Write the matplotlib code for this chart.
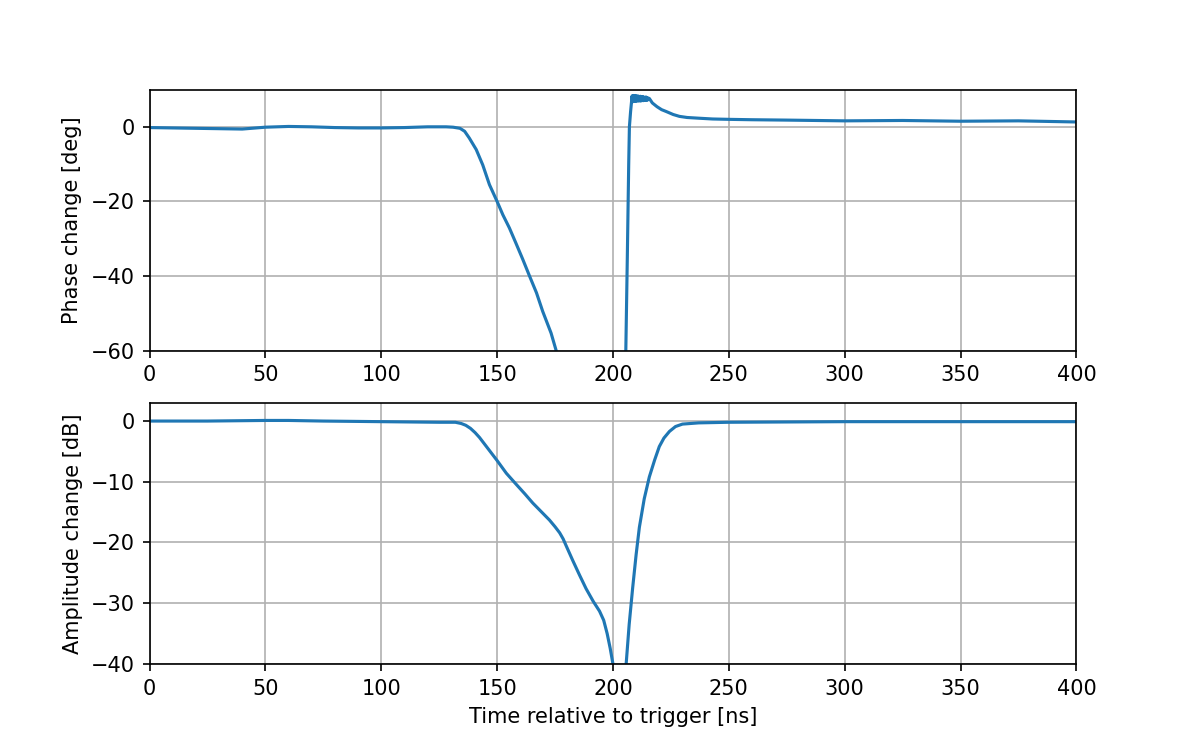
import matplotlib
matplotlib.use("Agg")
import matplotlib.pyplot as plt

# phase change [deg] vs time [ns]
t_phase = [0, 10, 20, 30, 40, 50, 60, 70, 80, 90, 100, 110, 120, 128, 131, 134,
           136, 138, 141, 143.8, 146.7, 150, 152.5, 155.3, 158, 161, 164, 167,
           169.7, 171.5, 173.3, 175.5, 178, 190, 204, 205.5, 206.2, 206.8, 207.1,
           207.6, 208.0, 208.25, 208.5, 208.75, 209.0, 209.25, 209.5, 209.75,
           210.0, 210.25, 210.5, 210.75, 211.0, 211.25, 211.5, 211.75, 212.0,
           212.25, 212.5, 212.75, 213.0, 213.25, 213.5, 213.75, 214.0, 214.25,
           214.5, 214.75, 215.0, 215.25, 215.7, 217, 219, 221, 223,
           226, 228.7, 232, 237.3, 243, 250.3, 260, 275, 300, 325, 350, 375, 400]
phase = [-0.2, -0.3, -0.4, -0.5, -0.6, -0.1, 0.1, 0.0, -0.2, -0.3, -0.3, -0.2, 0.0,
         0.0, -0.1, -0.4, -1.2, -3.0, -6.1, -10.2, -15.5, -20.0, -23.6, -27.1,
         -31.0, -35.4, -40.0, -44.5, -49.5, -52.4, -55.3, -60.0, -66, -90, -90,
         -62, -35, -10, 0.0, 4.0, 6.6, 8.3, 6.7, 8.4, 6.8, 8.3, 6.9, 8.4, 6.8,
         8.2, 7.0, 8.3, 6.9, 8.1, 7.0, 8.2, 6.9, 8.0, 7.1, 8.1, 7.0, 8.0, 7.1,
         7.9, 7.2, 8.0, 7.1, 7.8, 7.2, 7.7, 7.6, 6.4, 5.4, 4.6, 4.1, 3.3, 2.8,
         2.5, 2.3, 2.1, 2.0, 1.9, 1.8, 1.6, 1.7, 1.5, 1.6, 1.3]

# amplitude change [dB] vs time [ns]
t_amp = [0, 25, 50, 60, 75, 100, 125, 132, 134.5, 136.5, 138.5, 140.5, 142.4,
         146, 150, 154, 158.2, 162, 165.4, 169, 172.6, 175, 177, 178.5, 180,
         182.7, 185.5, 188.4, 191.5, 194.2, 196, 197.5, 198.8, 200, 203, 205.7,
         207, 208.5, 210, 211.4, 213.5, 215.7, 218, 220, 222, 224.4, 227, 230,
         237, 250, 300, 350, 400]
amp = [0.0, 0.0, 0.1, 0.1, 0.0, -0.1, -0.2, -0.2, -0.4, -0.7, -1.2, -1.9, -2.7,
       -4.5, -6.5, -8.6, -10.4, -12.0, -13.5, -14.9, -16.3, -17.4, -18.4, -19.4,
       -20.7, -23.0, -25.3, -27.6, -29.7, -31.3, -32.8, -35.0, -37.4, -40.0,
       -46, -40.0, -33.5, -27.5, -22.0, -17.5, -12.8, -9.2, -6.4, -4.2, -2.8,
       -1.7, -0.9, -0.5, -0.3, -0.2, -0.1, -0.1, -0.1]

fig, (ax1, ax2) = plt.subplots(2, 1, figsize=(1196 / 150, 746 / 150), dpi=150)

ax1.plot(t_phase, phase, color="#1f77b4")
ax1.set_xlim(0, 400)
ax1.set_ylim(-60, 10)
ax1.set_yticks([-60, -40, -20, 0])
ax1.set_xticks(range(0, 401, 50))
ax1.set_ylabel("Phase change [deg]")
ax1.grid(True)

ax2.plot(t_amp, amp, color="#1f77b4")
ax2.set_xlim(0, 400)
ax2.set_ylim(-40, 3)
ax2.set_yticks([-40, -30, -20, -10, 0])
ax2.set_xticks(range(0, 401, 50))
ax2.set_ylabel("Amplitude change [dB]")
ax2.set_xlabel("Time relative to trigger [ns]")
ax2.grid(True)

fig.savefig("out.png", dpi=150)
